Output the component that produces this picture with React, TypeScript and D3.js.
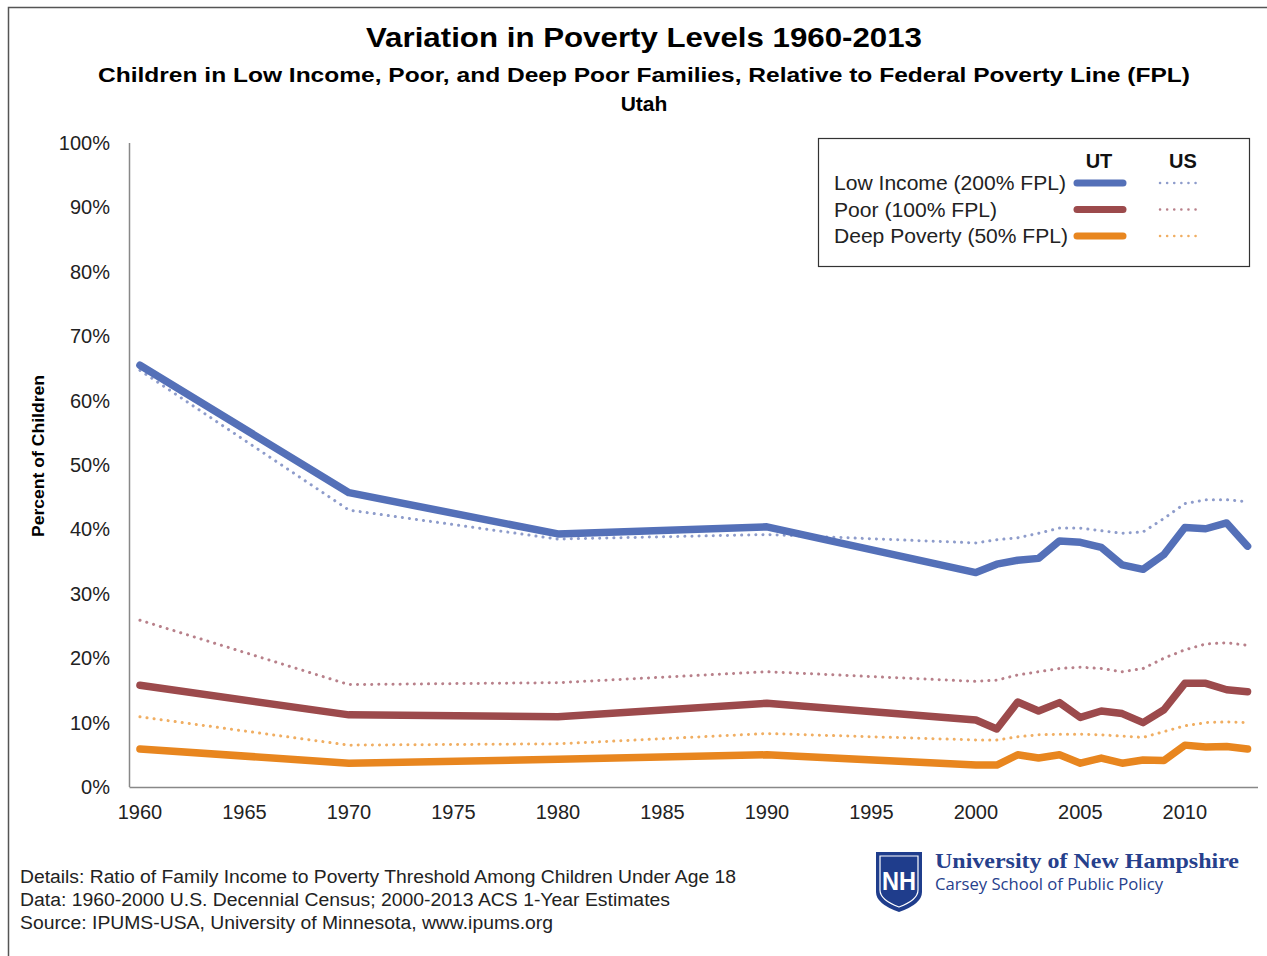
import React from 'react';
import * as d3 from 'd3';

// years on the x axis
const years = [1960, 1970, 1980, 1990, 2000, 2001, 2002, 2003, 2004, 2005, 2006, 2007, 2008, 2009, 2010, 2011, 2012, 2013];

// Utah (solid lines)
const utLowIncome = [65.5, 45.7, 39.3, 40.4, 33.3, 34.6, 35.2, 35.5, 38.2, 38.0, 37.2, 34.5, 33.8, 36.1, 40.3, 40.1, 41.0, 37.4];
const utPoor = [15.8, 11.2, 10.9, 13.0, 10.4, 9.0, 13.2, 11.8, 13.1, 10.8, 11.8, 11.4, 10.0, 12.0, 16.1, 16.1, 15.1, 14.8];
const utDeep = [5.9, 3.7, 4.3, 5.0, 3.4, 3.4, 5.0, 4.5, 5.0, 3.7, 4.5, 3.7, 4.2, 4.1, 6.5, 6.2, 6.3, 5.9];

// US (dotted lines)
const usLowIncome = [64.7, 43.0, 38.5, 39.2, 37.9, 38.4, 38.7, 39.4, 40.2, 40.2, 39.8, 39.4, 39.6, 41.7, 44.0, 44.6, 44.6, 44.3];
const usPoor = [25.9, 15.9, 16.2, 17.9, 16.4, 16.6, 17.4, 17.9, 18.4, 18.6, 18.4, 17.9, 18.4, 20.0, 21.3, 22.2, 22.4, 22.0];
const usDeep = [10.9, 6.5, 6.7, 8.3, 7.3, 7.3, 7.8, 8.1, 8.2, 8.2, 8.1, 7.9, 7.7, 8.6, 9.5, 10.0, 10.1, 10.0];

const xTicks = [1960, 1965, 1970, 1975, 1980, 1985, 1990, 1995, 2000, 2005, 2010];
const yTicks = [0, 10, 20, 30, 40, 50, 60, 70, 80, 90, 100];

const legendLabels = ['Low Income (200% FPL)', 'Poor (100% FPL)', 'Deep Poverty (50% FPL)'];
const legendWidths = [232, 163, 234];

const colors = ['#5470b8', '#9c4a4c', '#e8861f'];
const lightColors = ['#8e9ccb', '#b8808a', '#f0ae62'];

const footer = [
  'Details: Ratio of Family Income to Poverty Threshold Among Children Under Age 18',
  'Data: 1960-2000 U.S. Decennial Census; 2000-2013 ACS 1-Year Estimates',
  'Source: IPUMS-USA,  University of Minnesota, www.ipums.org',
];
const footerWidths = [716, 650, 533];

const W = 1267;
const H = 956;
const font = 'Liberation Sans, Arial, sans-serif';

export default function App() {
  const x = d3.scaleLinear().domain([1959.5, 2013.5]).range([129.5, 1258]);
  const y = d3.scaleLinear().domain([0, 100]).range([787, 143]);

  const line = d3.line<number>()
    .x((_, i) => x(years[i]))
    .y(d => y(d));

  const utSeries = [utLowIncome, utPoor, utDeep];
  const usSeries = [usLowIncome, usPoor, usDeep];

  return (
    <svg width={W} height={H} style={{ position: 'absolute', left: 0, top: 0, background: '#fff' }}>
      <rect x={8.5} y={7.5} width={W} height={H} fill="#fff" stroke="#555" strokeWidth={1.5} />

      {/* titles */}
      <text x={644} y={47} textAnchor="middle" fontFamily={font} fontWeight="bold" fontSize={27}
        textLength={556} lengthAdjust="spacingAndGlyphs" fill="#000">Variation in Poverty Levels 1960-2013</text>
      <text x={644} y={82} textAnchor="middle" fontFamily={font} fontWeight="bold" fontSize={21}
        textLength={1092} lengthAdjust="spacingAndGlyphs" fill="#000">Children in Low Income, Poor, and Deep Poor Families, Relative to Federal Poverty Line (FPL)</text>
      <text x={644} y={111} textAnchor="middle" fontFamily={font} fontWeight="bold" fontSize={21} fill="#000">Utah</text>

      {/* axes */}
      <line x1={129.5} x2={129.5} y1={143} y2={787} stroke="#888" strokeWidth={1.5} />
      <line x1={129.5} x2={1258} y1={787.5} y2={787.5} stroke="#888" strokeWidth={1.5} />

      {yTicks.map(t => (
        <text key={t} x={110} y={y(t) + 7} textAnchor="end" fontFamily={font} fontSize={20} fill="#222">{t}%</text>
      ))}
      {xTicks.map(t => (
        <text key={t} x={x(t)} y={819} textAnchor="middle" fontFamily={font} fontSize={20} fill="#222">{t}</text>
      ))}

      <text transform="translate(44,456) rotate(-90)" textAnchor="middle" fontFamily={font} fontWeight="bold"
        fontSize={16.5} textLength={162} lengthAdjust="spacingAndGlyphs" fill="#000">Percent of Children</text>

      {/* US dotted */}
      {usSeries.map((s, i) => (
        <path key={'us' + i} d={line(s) || ''} fill="none" stroke={lightColors[i]} strokeWidth={3}
          strokeDasharray="0.1 7" strokeLinecap="round" />
      ))}
      {/* UT solid */}
      {utSeries.map((s, i) => (
        <path key={'ut' + i} d={line(s) || ''} fill="none" stroke={colors[i]} strokeWidth={7.5}
          strokeLinecap="round" strokeLinejoin="round" />
      ))}

      {/* legend */}
      <rect x={818.5} y={138.5} width={431} height={128} fill="#fff" stroke="#333" strokeWidth={1.2} />
      <text x={1099} y={168} textAnchor="middle" fontFamily={font} fontWeight="bold" fontSize={20} fill="#111">UT</text>
      <text x={1183} y={168} textAnchor="middle" fontFamily={font} fontWeight="bold" fontSize={20} fill="#111">US</text>
      {legendLabels.map((l, i) => {
        const ly = 183 + i * 26.5;
        return (
          <g key={l}>
            <text x={834} y={ly + 7} fontFamily={font} fontSize={19.5} fill="#222"
              textLength={legendWidths[i]} lengthAdjust="spacingAndGlyphs">{l}</text>
            <line x1={1077} x2={1123} y1={ly} y2={ly} stroke={colors[i]} strokeWidth={7} strokeLinecap="round" />
            <line x1={1160} x2={1202} y1={ly} y2={ly} stroke={lightColors[i]} strokeWidth={2.5}
              strokeDasharray="0.1 7" strokeLinecap="round" />
          </g>
        );
      })}

      {/* footer */}
      {footer.map((f, i) => (
        <text key={i} x={20} y={883 + i * 23} fontFamily={font} fontSize={18} fill="#222"
          textLength={footerWidths[i]} lengthAdjust="spacingAndGlyphs">{f}</text>
      ))}

      {/* logo */}
      <path d="M876,852 L922,852 L922,892 Q922,904 899,912 Q876,904 876,892 Z" fill="#1f3d8c" />
      <path d="M880,856 L918,856 L918,890 Q918,900 899,907 Q880,900 880,890 Z" fill="none" stroke="#fff" strokeWidth={1.2} />
      <text x={899} y={890} textAnchor="middle" fontFamily={font} fontWeight="bold" fontSize={26} fill="#fff"
        textLength={34} lengthAdjust="spacingAndGlyphs">NH</text>
      <text x={935} y={868} fontFamily="Liberation Serif, Georgia, serif" fontWeight="bold" fontSize={21.5} fill="#26408c"
        textLength={304} lengthAdjust="spacingAndGlyphs">University of New Hampshire</text>
      <text x={935} y={890} fontFamily="Open Sans, sans-serif" fontSize={17} fill="#26408c"
        textLength={228} lengthAdjust="spacingAndGlyphs">Carsey School of Public Policy</text>
    </svg>
  );
}
